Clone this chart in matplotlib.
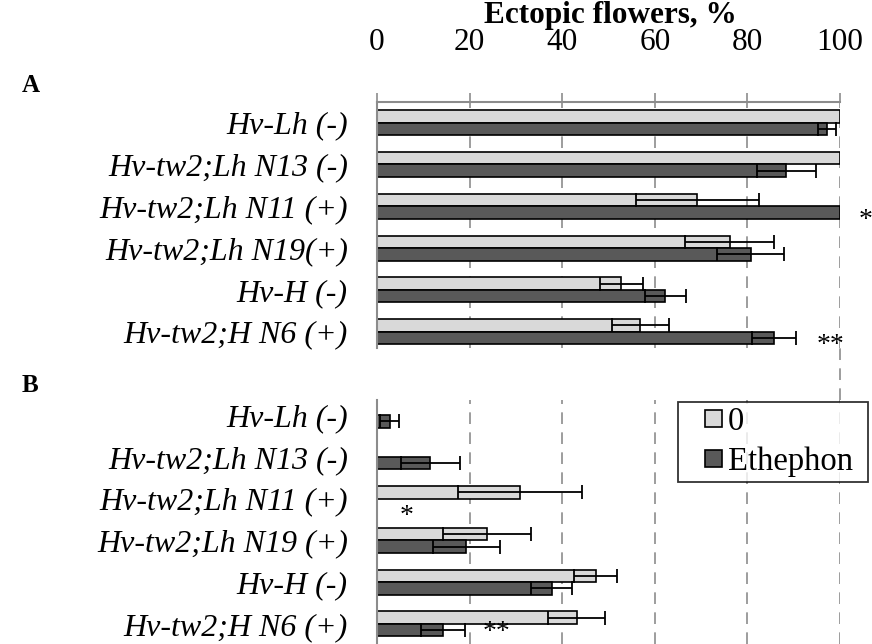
import numpy as np
import matplotlib.pyplot as plt
from matplotlib.patches import Patch, Rectangle
from matplotlib.legend_handler import HandlerPatch

plt.rcParams['font.family'] = ['Liberation Serif', 'DejaVu Serif']

# --- data ---
lines = ["Hv-Lh (-)", "Hv-tw2;Lh N13 (-)", "Hv-tw2;Lh N11 (+)",
         "Hv-tw2;Lh N19(+)", "Hv-H (-)", "Hv-tw2;H N6 (+)"]
lines_b = ["Hv-Lh (-)", "Hv-tw2;Lh N13 (-)", "Hv-tw2;Lh N11 (+)",
           "Hv-tw2;Lh N19 (+)", "Hv-H (-)", "Hv-tw2;H N6 (+)"]

# panel A
a_ctrl = [100, 100, 69.2, 76.2, 52.8, 56.9]
a_ctrl_err = [0, 0, 13.3, 9.6, 4.6, 6.1]
a_eth = [97.2, 88.4, 100, 80.7, 62.3, 85.8]
a_eth_err = [2.0, 6.4, 0, 7.2, 4.4, 4.7]

# panel B
b_ctrl = [0, 0, 30.8, 23.7, 47.2, 43.1]
b_ctrl_err = [0, 0, 13.4, 9.5, 4.6, 6.2]
b_eth = [2.7, 11.5, 0, 19.3, 37.7, 14.2]
b_eth_err = [2.1, 6.4, 0, 7.2, 4.4, 4.8]

# significance marks: (x, row, text)
a_marks = [(105.5, 2.33, "*"), (97.9, 5.34, "**")]
b_marks = [(6.3, 2.43, "*"), (25.8, 5.2, "**")]

LIGHT = "#d9d9d9"
DARK = "#595959"
GRID = "#8c8c8c"
W, H = 872, 644


class SquareHandler(HandlerPatch):
    # small square drawn at the right end of the handle box
    def create_artists(self, legend, orig_handle, xdescent, ydescent,
                       width, height, fontsize, trans):
        s = 0.52 * fontsize
        p = Rectangle((width - s - xdescent, (height - s) / 2 - ydescent), s, s,
                      facecolor=orig_handle.get_facecolor(), edgecolor="black",
                      linewidth=1.2, transform=trans)
        return [p]


fig = plt.figure(figsize=(W / 100, H / 100), dpi=100)
x0 = 377 / W
xw = 463 / W
ax_a = fig.add_axes([x0, 1 - 348 / H, xw, (348 - 101.7) / H])
ax_b = fig.add_axes([x0, 0, xw, 244 / H])


def draw_panel(ax, labels, c, ce, e, ee, marks, ylim):
    y = np.arange(len(labels))
    bh = 0.3
    ax.barh(y - bh / 2, c, height=bh, color=LIGHT, edgecolor="black", linewidth=1.2, zorder=3)
    ax.barh(y + bh / 2, e, height=bh, color=DARK, edgecolor="black", linewidth=1.2, zorder=3)
    ce = np.array(ce, float)
    ee = np.array(ee, float)
    m = ce > 0
    ax.errorbar(np.array(c)[m], (y - bh / 2)[m], xerr=ce[m], fmt="none", ecolor="black",
                elinewidth=1.3, capsize=5, capthick=1.3, zorder=4)
    m = ee > 0
    ax.errorbar(np.array(e)[m], (y + bh / 2)[m], xerr=ee[m], fmt="none", ecolor="black",
                elinewidth=1.3, capsize=5, capthick=1.3, zorder=4)
    for xm, ym, txt in marks:
        ax.text(xm, ym, txt, ha="center", va="center", fontsize=20, clip_on=False, zorder=5)
    ax.set_yticks(y)
    ax.set_yticklabels(labels, fontsize=23, style="italic")
    ax.tick_params(axis="y", length=0, pad=21)
    ax.set_xlim(0, 100)
    ax.set_ylim(*ylim)
    ax.set_xticks(np.arange(0, 101, 20))
    ax.grid(axis="x", color=GRID, linestyle=(0, (7, 5)), linewidth=1.2, zorder=0)
    for s in ["right", "bottom", "top"]:
        ax.spines[s].set_visible(False)
    ax.spines["left"].set_color(GRID)
    ax.spines["left"].set_linewidth(1.5)
    ax.spines["left"].set_zorder(5)


draw_panel(ax_a, lines, a_ctrl, a_ctrl_err, a_eth, a_eth_err, a_marks, (5.39, -0.5))
draw_panel(ax_b, lines_b, b_ctrl, b_ctrl_err, b_eth, b_eth_err, b_marks, (5.48, -0.36))

ax_a.spines["top"].set_visible(True)
ax_a.spines["top"].set_color(GRID)
ax_a.spines["top"].set_linewidth(1.5)
ax_a.xaxis.tick_top()
ax_a.tick_params(axis="x", direction="out", length=6.5, width=1.2, color=GRID,
                 labelsize=22.5, pad=26)
ax_b.tick_params(axis="x", length=0, labelbottom=False, labeltop=False)

# dashed 100 gridline bridging the gap between the panels
ax_b.plot([100, 100], [ax_b.get_ylim()[1], -1.6], color=GRID, linestyle=(0, (7, 5)),
          linewidth=1.2, clip_on=False, zorder=0)

fig.text(610 / W, 1 - 23 / H, "Ectopic flowers, %", ha="center", va="baseline",
         fontsize=22.5, fontweight="bold")
fig.text(22 / W, 1 - 86 / H, "A", ha="left", va="center", fontsize=18, fontweight="bold")
fig.text(22 / W, 1 - 386 / H, "B", ha="left", va="center", fontsize=18, fontweight="bold")

handles = [Patch(facecolor=LIGHT, edgecolor="black", linewidth=1.2),
           Patch(facecolor=DARK, edgecolor="black", linewidth=1.2)]
leg = fig.legend(handles, ["0", "Ethephon"], loc="upper left",
                 bbox_to_anchor=(678 / W, 1 - 482 / H, 190 / W, 80 / H), mode="expand",
                 borderaxespad=0, fontsize=23.5, frameon=True, fancybox=False,
                 edgecolor="black", handlelength=1.2, handleheight=0.7,
                 handletextpad=0.18, borderpad=0.15, labelspacing=0.27,
                 handler_map={Patch: SquareHandler()})
leg.get_frame().set_linewidth(1.3)

fig.savefig("out.png", dpi=100)
